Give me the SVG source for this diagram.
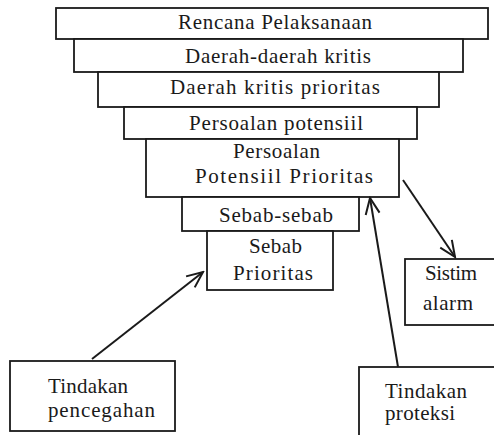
<svg xmlns="http://www.w3.org/2000/svg" width="494" height="435" viewBox="0 0 494 435">
<defs>
<style>
.box{fill:#fff;stroke:#1a1a1a;stroke-width:1.8}
.t{font-family:"Liberation Serif","DejaVu Serif",serif;font-size:21px;fill:#1a1a1a}
.c{text-anchor:middle}
.conn{stroke:#1a1a1a;stroke-width:2;fill:none}
</style>
<marker id="ah" viewBox="0 0 20 20" refX="18" refY="10" markerWidth="20" markerHeight="20" markerUnits="userSpaceOnUse" orient="auto">
<path d="M2,3 L18,10 L2,17" fill="none" stroke="#1a1a1a" stroke-width="2"/>
</marker>
</defs>
<rect width="494" height="435" fill="#fff"/>
<g id="n1"><rect class="box" x="56" y="8" width="432" height="31"/><text class="t c" x="275" y="29" textLength="194" lengthAdjust="spacing">Rencana Pelaksanaan</text></g>
<g id="n2"><rect class="box" x="74" y="39" width="389" height="33"/><text class="t c" x="278" y="63" textLength="186" lengthAdjust="spacing">Daerah-daerah kritis</text></g>
<g id="n3"><rect class="box" x="98" y="72" width="341" height="35"/><text class="t c" x="275" y="94" textLength="210" lengthAdjust="spacing">Daerah kritis prioritas</text></g>
<g id="n4"><rect class="box" x="124" y="107" width="293" height="32"/><text class="t c" x="276" y="130" textLength="174" lengthAdjust="spacing">Persoalan potensiil</text></g>
<g id="n5"><rect class="box" x="146" y="139" width="253" height="58"/><text class="t c" x="276.5" y="158" textLength="87" lengthAdjust="spacing">Persoalan</text><text class="t c" x="284" y="183" textLength="178" lengthAdjust="spacing">Potensiil Prioritas</text></g>
<g id="n6"><rect class="box" x="182" y="197" width="177" height="34"/><text class="t c" x="276" y="222" textLength="114" lengthAdjust="spacing">Sebab-sebab</text></g>
<g id="n7"><rect class="box" x="207" y="231" width="126" height="59"/><text class="t c" x="275.5" y="253" textLength="53" lengthAdjust="spacing">Sebab</text><text class="t c" x="273" y="280" textLength="80" lengthAdjust="spacing">Prioritas</text></g>
<g id="alarm"><rect class="box" x="405" y="259" width="100" height="66"/><text class="t" x="425" y="280" textLength="52" lengthAdjust="spacing">Sistim</text><text class="t" x="423" y="310" textLength="50" lengthAdjust="spacing">alarm</text></g>
<g id="pencegahan"><rect class="box" x="10" y="361" width="165" height="70"/><text class="t" x="48" y="393" textLength="80" lengthAdjust="spacing">Tindakan</text><text class="t" x="48" y="417" textLength="107" lengthAdjust="spacing">pencegahan</text></g>
<g id="proteksi"><rect class="box" x="359" y="367" width="140" height="80"/><text class="t" x="385" y="398" textLength="82" lengthAdjust="spacing">Tindakan</text><text class="t" x="385" y="420" textLength="70" lengthAdjust="spacing">proteksi</text></g>
<g id="connectors">
<line class="conn" x1="403" y1="180" x2="455" y2="257" marker-end="url(#ah)"/>
<line class="conn" x1="398" y1="367" x2="370" y2="198" marker-end="url(#ah)"/>
<line class="conn" x1="92" y1="359" x2="203" y2="272" marker-end="url(#ah)"/>
</g>
</svg>
